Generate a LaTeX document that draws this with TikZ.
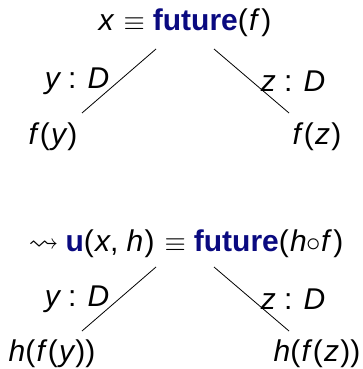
\documentclass[tikz,border=0pt]{standalone}
\usepackage{amssymb}
\usepackage{graphicx}
\usepackage{fontspec}
\setmainfont{Liberation Sans}
\definecolor{kw}{RGB}{10,10,128}
\newcommand{\mi}[1]{{\itshape #1}}
\newcommand{\kwd}[1]{{\color{kw}\bfseries #1}}
\newcommand{\eqv}{\hspace{5pt}\scalebox{0.95}{$\equiv$}\hspace{4pt}}
\newcommand{\lp}{(\hspace{0.6pt}}
\begin{document}
\begin{tikzpicture}[x=0.5pt,y=-0.5pt,
  lbl/.style={inner sep=0pt, font=\fontsize{15}{18}\selectfont},
  edge/.style={draw=black, line width=0.4pt}]
\useasboundingbox (0,0) rectangle (363,369);
% top tree
\node[lbl] (t) at (185,23) {\mi{x}\eqv\kwd{future}\lp\mi{f}\hspace{2pt})};
\coordinate (tl) at (156,49);
\coordinate (tr) at (214,49);
\coordinate (tla) at (82,113);
\coordinate (tra) at (289,113);
\draw[edge] (tl) -- (tla);
\draw[edge] (tr) -- (tra);
\node[lbl] (ty) at (77,81) {\mi{y} : \mi{D}};
\node[lbl] (tz) at (293,81) {\mi{z} : \mi{D}};
\node[lbl] (fy) at (53,137) {\mi{f}\hspace{1.5pt}\lp\mi{y}\hspace{0.6pt})};
\node[lbl] (fz) at (317,137) {\mi{f}\hspace{1.5pt}\lp\mi{z}\hspace{0.6pt})};
% bottom tree
\node[lbl] (b) at (186,244) {$\leadsto$\hspace{3.5pt}\kwd{u}\lp\mi{x}, \mi{h}\hspace{0.6pt})\eqv\kwd{future}\lp\mi{h}$\circ$\mi{f}\hspace{2pt})};
\coordinate (bl) at (156,267);
\coordinate (br) at (214,267);
\coordinate (bla) at (82,331);
\coordinate (bra) at (289,331);
\draw[edge] (bl) -- (bla);
\draw[edge] (br) -- (bra);
\node[lbl] (by) at (77,299) {\mi{y} : \mi{D}};
\node[lbl] (bz) at (293,299) {\mi{z} : \mi{D}};
\node[lbl] (hy) at (52,354) {\mi{h}\lp\mi{f}\hspace{1.5pt}\lp\mi{y}\hspace{0.6pt}))};
\node[lbl] (hz) at (317,354) {\mi{h}\lp\mi{f}\hspace{1.5pt}\lp\mi{z}\hspace{0.6pt}))};
\end{tikzpicture}
\end{document}
